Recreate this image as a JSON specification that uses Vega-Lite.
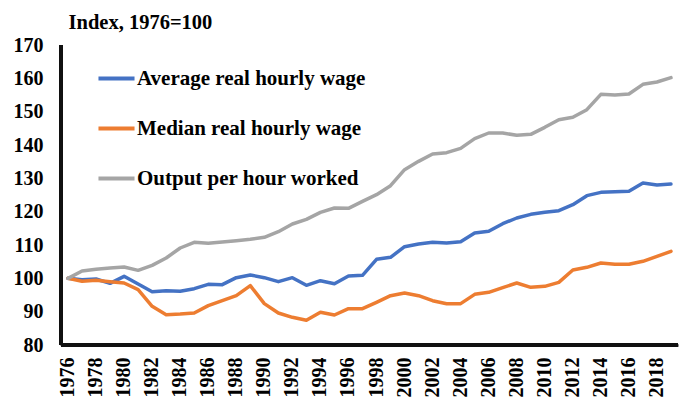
{
  "$schema": "https://vega.github.io/schema/vega-lite/v6.json",
  "width": 617,
  "height": 300,
  "autosize": "none",
  "padding": {"left": 61, "top": 45, "right": 16, "bottom": 73},
  "background": "white",
  "config": {
    "view": {"stroke": null},
    "font": "Times New Roman, Liberation Serif, serif"
  },
  "data": {
    "values": [
      {"year": 1976, "series": "Average real hourly wage", "value": 100},
      {"year": 1977, "series": "Average real hourly wage", "value": 99.6},
      {"year": 1978, "series": "Average real hourly wage", "value": 99.8},
      {"year": 1979, "series": "Average real hourly wage", "value": 98.5},
      {"year": 1980, "series": "Average real hourly wage", "value": 100.6},
      {"year": 1981, "series": "Average real hourly wage", "value": 98.3},
      {"year": 1982, "series": "Average real hourly wage", "value": 96.0},
      {"year": 1983, "series": "Average real hourly wage", "value": 96.3},
      {"year": 1984, "series": "Average real hourly wage", "value": 96.1},
      {"year": 1985, "series": "Average real hourly wage", "value": 96.9},
      {"year": 1986, "series": "Average real hourly wage", "value": 98.2},
      {"year": 1987, "series": "Average real hourly wage", "value": 98.1},
      {"year": 1988, "series": "Average real hourly wage", "value": 100.2},
      {"year": 1989, "series": "Average real hourly wage", "value": 101.0},
      {"year": 1990, "series": "Average real hourly wage", "value": 100.2},
      {"year": 1991, "series": "Average real hourly wage", "value": 99.0},
      {"year": 1992, "series": "Average real hourly wage", "value": 100.2},
      {"year": 1993, "series": "Average real hourly wage", "value": 97.9},
      {"year": 1994, "series": "Average real hourly wage", "value": 99.3},
      {"year": 1995, "series": "Average real hourly wage", "value": 98.4},
      {"year": 1996, "series": "Average real hourly wage", "value": 100.7},
      {"year": 1997, "series": "Average real hourly wage", "value": 100.9},
      {"year": 1998, "series": "Average real hourly wage", "value": 105.7},
      {"year": 1999, "series": "Average real hourly wage", "value": 106.3},
      {"year": 2000, "series": "Average real hourly wage", "value": 109.5},
      {"year": 2001, "series": "Average real hourly wage", "value": 110.3},
      {"year": 2002, "series": "Average real hourly wage", "value": 110.8},
      {"year": 2003, "series": "Average real hourly wage", "value": 110.6},
      {"year": 2004, "series": "Average real hourly wage", "value": 111.0},
      {"year": 2005, "series": "Average real hourly wage", "value": 113.6},
      {"year": 2006, "series": "Average real hourly wage", "value": 114.1},
      {"year": 2007, "series": "Average real hourly wage", "value": 116.4},
      {"year": 2008, "series": "Average real hourly wage", "value": 118.1},
      {"year": 2009, "series": "Average real hourly wage", "value": 119.2},
      {"year": 2010, "series": "Average real hourly wage", "value": 119.8},
      {"year": 2011, "series": "Average real hourly wage", "value": 120.3},
      {"year": 2012, "series": "Average real hourly wage", "value": 122.1},
      {"year": 2013, "series": "Average real hourly wage", "value": 124.8},
      {"year": 2014, "series": "Average real hourly wage", "value": 125.8},
      {"year": 2015, "series": "Average real hourly wage", "value": 126.0},
      {"year": 2016, "series": "Average real hourly wage", "value": 126.1},
      {"year": 2017, "series": "Average real hourly wage", "value": 128.6},
      {"year": 2018, "series": "Average real hourly wage", "value": 128.0},
      {"year": 2019, "series": "Average real hourly wage", "value": 128.3},
      {"year": 1976, "series": "Median real hourly wage", "value": 100},
      {"year": 1977, "series": "Median real hourly wage", "value": 99.1},
      {"year": 1978, "series": "Median real hourly wage", "value": 99.4},
      {"year": 1979, "series": "Median real hourly wage", "value": 99.0},
      {"year": 1980, "series": "Median real hourly wage", "value": 98.6},
      {"year": 1981, "series": "Median real hourly wage", "value": 96.6},
      {"year": 1982, "series": "Median real hourly wage", "value": 91.6},
      {"year": 1983, "series": "Median real hourly wage", "value": 89.1},
      {"year": 1984, "series": "Median real hourly wage", "value": 89.3},
      {"year": 1985, "series": "Median real hourly wage", "value": 89.6},
      {"year": 1986, "series": "Median real hourly wage", "value": 91.8},
      {"year": 1987, "series": "Median real hourly wage", "value": 93.3},
      {"year": 1988, "series": "Median real hourly wage", "value": 94.8},
      {"year": 1989, "series": "Median real hourly wage", "value": 97.8},
      {"year": 1990, "series": "Median real hourly wage", "value": 92.4},
      {"year": 1991, "series": "Median real hourly wage", "value": 89.6},
      {"year": 1992, "series": "Median real hourly wage", "value": 88.3},
      {"year": 1993, "series": "Median real hourly wage", "value": 87.4},
      {"year": 1994, "series": "Median real hourly wage", "value": 89.8},
      {"year": 1995, "series": "Median real hourly wage", "value": 89.0},
      {"year": 1996, "series": "Median real hourly wage", "value": 90.9},
      {"year": 1997, "series": "Median real hourly wage", "value": 90.9},
      {"year": 1998, "series": "Median real hourly wage", "value": 92.8},
      {"year": 1999, "series": "Median real hourly wage", "value": 94.8},
      {"year": 2000, "series": "Median real hourly wage", "value": 95.6},
      {"year": 2001, "series": "Median real hourly wage", "value": 94.8},
      {"year": 2002, "series": "Median real hourly wage", "value": 93.3},
      {"year": 2003, "series": "Median real hourly wage", "value": 92.4},
      {"year": 2004, "series": "Median real hourly wage", "value": 92.4},
      {"year": 2005, "series": "Median real hourly wage", "value": 95.2},
      {"year": 2006, "series": "Median real hourly wage", "value": 95.8},
      {"year": 2007, "series": "Median real hourly wage", "value": 97.2},
      {"year": 2008, "series": "Median real hourly wage", "value": 98.6},
      {"year": 2009, "series": "Median real hourly wage", "value": 97.3},
      {"year": 2010, "series": "Median real hourly wage", "value": 97.6},
      {"year": 2011, "series": "Median real hourly wage", "value": 98.8},
      {"year": 2012, "series": "Median real hourly wage", "value": 102.5},
      {"year": 2013, "series": "Median real hourly wage", "value": 103.3},
      {"year": 2014, "series": "Median real hourly wage", "value": 104.6},
      {"year": 2015, "series": "Median real hourly wage", "value": 104.2},
      {"year": 2016, "series": "Median real hourly wage", "value": 104.2},
      {"year": 2017, "series": "Median real hourly wage", "value": 105.1},
      {"year": 2018, "series": "Median real hourly wage", "value": 106.6},
      {"year": 2019, "series": "Median real hourly wage", "value": 108.1},
      {"year": 1976, "series": "Output per hour worked", "value": 100},
      {"year": 1977, "series": "Output per hour worked", "value": 102.2},
      {"year": 1978, "series": "Output per hour worked", "value": 102.7},
      {"year": 1979, "series": "Output per hour worked", "value": 103.1},
      {"year": 1980, "series": "Output per hour worked", "value": 103.4},
      {"year": 1981, "series": "Output per hour worked", "value": 102.4},
      {"year": 1982, "series": "Output per hour worked", "value": 103.9},
      {"year": 1983, "series": "Output per hour worked", "value": 106.1},
      {"year": 1984, "series": "Output per hour worked", "value": 109.1},
      {"year": 1985, "series": "Output per hour worked", "value": 110.8},
      {"year": 1986, "series": "Output per hour worked", "value": 110.5},
      {"year": 1987, "series": "Output per hour worked", "value": 110.9},
      {"year": 1988, "series": "Output per hour worked", "value": 111.3},
      {"year": 1989, "series": "Output per hour worked", "value": 111.7},
      {"year": 1990, "series": "Output per hour worked", "value": 112.3},
      {"year": 1991, "series": "Output per hour worked", "value": 114.0},
      {"year": 1992, "series": "Output per hour worked", "value": 116.3},
      {"year": 1993, "series": "Output per hour worked", "value": 117.7},
      {"year": 1994, "series": "Output per hour worked", "value": 119.8},
      {"year": 1995, "series": "Output per hour worked", "value": 121.1},
      {"year": 1996, "series": "Output per hour worked", "value": 121.0},
      {"year": 1997, "series": "Output per hour worked", "value": 123.1},
      {"year": 1998, "series": "Output per hour worked", "value": 125.1},
      {"year": 1999, "series": "Output per hour worked", "value": 127.8},
      {"year": 2000, "series": "Output per hour worked", "value": 132.6},
      {"year": 2001, "series": "Output per hour worked", "value": 135.1},
      {"year": 2002, "series": "Output per hour worked", "value": 137.3},
      {"year": 2003, "series": "Output per hour worked", "value": 137.7},
      {"year": 2004, "series": "Output per hour worked", "value": 139.0},
      {"year": 2005, "series": "Output per hour worked", "value": 141.9},
      {"year": 2006, "series": "Output per hour worked", "value": 143.6},
      {"year": 2007, "series": "Output per hour worked", "value": 143.6},
      {"year": 2008, "series": "Output per hour worked", "value": 142.9},
      {"year": 2009, "series": "Output per hour worked", "value": 143.2},
      {"year": 2010, "series": "Output per hour worked", "value": 145.3},
      {"year": 2011, "series": "Output per hour worked", "value": 147.6},
      {"year": 2012, "series": "Output per hour worked", "value": 148.3},
      {"year": 2013, "series": "Output per hour worked", "value": 150.6},
      {"year": 2014, "series": "Output per hour worked", "value": 155.2},
      {"year": 2015, "series": "Output per hour worked", "value": 155.0},
      {"year": 2016, "series": "Output per hour worked", "value": 155.3},
      {"year": 2017, "series": "Output per hour worked", "value": 158.2},
      {"year": 2018, "series": "Output per hour worked", "value": 158.9},
      {"year": 2019, "series": "Output per hour worked", "value": 160.2}
    ]
  },
  "layer": [
    {
      "mark": {"type": "line", "strokeWidth": 3.5, "strokeJoin": "round", "strokeCap": "round"},
      "encoding": {
        "x": {
          "field": "year",
          "type": "ordinal",
          "bandPosition": 0.5,
          "scale": {"type": "band", "paddingInner": 0, "paddingOuter": 0},
          "axis": {
            "title": null,
            "domain": true,
            "domainColor": "#111111",
            "domainWidth": 2.5,
            "labelExpr": "datum.value % 2 == 0 ? datum.label : ''",
            "labelAngle": -90,
            "labelAlign": "right",
            "labelBaseline": "middle",
            "labelFontWeight": "bold",
            "labelFontSize": 20,
            "labelColor": "black",
            "labelPadding": 12,
            "ticks": false,
            "grid": false
          }
        },
        "y": {
          "field": "value",
          "type": "quantitative",
          "scale": {"domain": [80, 170], "nice": false, "zero": false},
          "axis": {
            "title": "Index, 1976=100",
            "domain": true,
            "domainColor": "#111111",
            "domainWidth": 2.5,
            "titleAngle": 0,
            "titleAlign": "left",
            "titleBaseline": "middle",
            "titleX": 7,
            "titleY": -23,
            "titleFontWeight": "bold",
            "titleFontSize": 20.5,
            "titleColor": "black",
            "tickCount": 10,
            "labelFontWeight": "bold",
            "labelFontSize": 20,
            "labelColor": "black",
            "labelPadding": 18,
            "ticks": false,
            "grid": false
          }
        },
        "color": {
          "field": "series",
          "type": "nominal",
          "scale": {
            "domain": ["Average real hourly wage", "Median real hourly wage", "Output per hour worked"],
            "range": ["#4472C4", "#ED7D31", "#A5A5A5"]
          },
          "legend": {
            "title": null,
            "orient": "none",
            "legendX": 35,
            "legendY": 13,
            "symbolType": "stroke",
            "symbolStrokeWidth": 4,
            "symbolSize": 1300,
            "labelFontWeight": "bold",
            "labelFontSize": 21,
            "labelColor": "black",
            "labelOffset": 0,
            "labelLimit": 400,
            "rowPadding": 19
          }
        }
      }
    },
    {
      "mark": {"type": "rule", "color": "#111111", "strokeWidth": 2.5},
      "encoding": {
        "y": {"datum": 80}
      }
    },
    {
      "mark": {"type": "rule", "color": "#111111", "strokeWidth": 2.5},
      "encoding": {
        "x": {"datum": 1976, "type": "ordinal", "bandPosition": 0}
      }
    }
  ]
}
